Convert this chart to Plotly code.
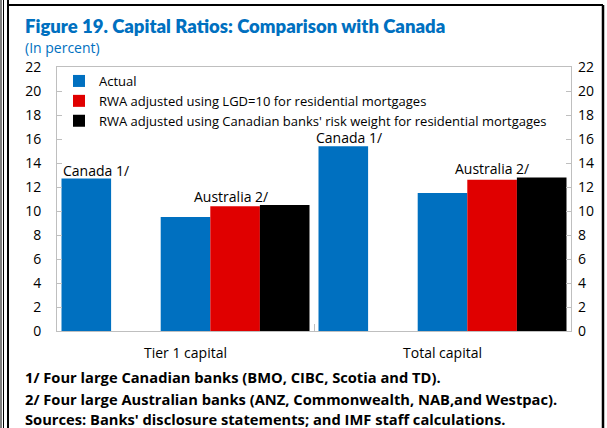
import plotly.graph_objects as go

# ---- data ----
categories = ["Tier 1 capital", "Total capital"]
canada = [12.7, 15.4]          # Canada 1/ (actual)
spacer = [None, None]          # empty slot between Canada and Australia
actual = [9.5, 11.5]           # Australia 2/ actual
rwa_lgd = [10.4, 12.6]         # RWA adjusted using LGD=10
rwa_can = [10.5, 12.8]         # RWA adjusted using Canadian banks' risk weight
y_ticks = list(range(0, 23, 2))

legend_names = [
    "Actual",
    "RWA adjusted using LGD=10 for residential mortgages",
    "RWA adjusted using Canadian banks' risk weight for residential mortgages",
]
title_text = "Figure 19. Capital Ratios: Comparison with Canada"
subtitle_text = "(In percent)"
notes = [
    "1/ Four large Canadian banks (BMO, CIBC, Scotia and TD).",
    "2/ Four large Australian banks (ANZ, Commonwealth, NAB,and Westpac).",
    "Sources: Banks' disclosure statements; and IMF staff calculations.",
]

# ---- style ----
BLUE = "#0070C0"
RED = "#E00000"
BLACK = "#000000"
AXIS_GRAY = "#BFBFBF"
FONT = "Open Sans"
TFONT = "Lato"
W, H = 607, 428
L, R, T, B = 57, 36, 67, 97
PW, PH = W - L - R, H - T - B
BARGAP = 0.035
NSLOT = 5


def px(xp):
    return (xp - L) / PW


def py(yp):
    return (H - B - yp) / PH


fig = go.Figure()
fig.add_bar(x=categories, y=canada, marker_color=BLUE, showlegend=False, name="Canada")
fig.add_bar(x=categories, y=spacer, marker_color=BLUE, showlegend=False, name="")
fig.add_bar(x=categories, y=actual, marker_color=BLUE, name=legend_names[0])
fig.add_bar(x=categories, y=rwa_lgd, marker_color=RED, name=legend_names[1])
fig.add_bar(x=categories, y=rwa_can, marker_color=BLACK, name=legend_names[2])
for tr in fig.data:
    tr.marker.line.width = 0
# invisible trace so the right-hand axis is drawn
fig.add_scatter(x=categories, y=spacer, yaxis="y2", mode="markers", showlegend=False,
                hoverinfo="skip", marker=dict(opacity=0))

slot = (1 - BARGAP) / NSLOT
annotations = []
for i in range(len(categories)):
    annotations.append(dict(
        x=i - 2 * slot, y=canada[i], xref="x", yref="y", text="Canada 1/",
        showarrow=False, yanchor="bottom", xshift=10 if i == 0 else 6, yshift=-3,
        font=dict(family=FONT, size=14, color="#000")))
    annotations.append(dict(
        x=i + slot, y=max(actual[i], rwa_lgd[i], rwa_can[i]), xref="x", yref="y",
        text="Australia 2/", showarrow=False, yanchor="bottom", xshift=-4 if i == 0 else 0,
        yshift=-3, font=dict(family=FONT, size=14, color="#000")))

annotations.append(dict(x=px(23), y=py(26), xref="paper", yref="paper", text=title_text,
                        showarrow=False, xanchor="left", yanchor="middle",
                        font=dict(family=TFONT, size=18.5, color=BLUE, weight=800)))
annotations.append(dict(x=px(23), y=py(47), xref="paper", yref="paper", text=subtitle_text,
                        showarrow=False, xanchor="left", yanchor="middle",
                        font=dict(family=FONT, size=14, color=BLUE)))
for t, yy in zip(notes, [377, 399, 419]):
    annotations.append(dict(x=px(23), y=py(yy), xref="paper", yref="paper", text="<b>" + t + "</b>",
                            showarrow=False, xanchor="left", yanchor="middle",
                            font=dict(family=FONT, size=14.7, color="#000")))

shapes = []
for xx, wd in [(1, 1), (3.5, 1), (8, 2)]:
    shapes.append(dict(type="line", xref="paper", yref="paper", x0=px(xx), x1=px(xx), y0=py(0), y1=py(H + 2),
                       line=dict(color="#000", width=wd)))
shapes.append(dict(type="line", xref="paper", yref="paper", x0=px(8), x1=px(603), y0=py(5), y1=py(5),
                   line=dict(color="#000", width=2)))
shapes.append(dict(type="line", xref="paper", yref="paper", x0=px(603), x1=px(603), y0=py(5), y1=py(H + 2),
                   line=dict(color="#000", width=2.5)))

fig.update_layout(
    width=W, height=H,
    margin=dict(l=L, r=R, t=T, b=B, pad=0),
    paper_bgcolor="white", plot_bgcolor="white",
    barmode="group", bargap=BARGAP, bargroupgap=0,
    font=dict(family=FONT, size=14, color="#000"),
    showlegend=True,
    legend=dict(x=px(59), y=py(66), xanchor="left", yanchor="top",
                bgcolor="rgba(0,0,0,0)", font=dict(family=FONT, size=13, color="#000"),
                itemwidth=30, tracegroupgap=0),
    xaxis=dict(showline=True, linecolor=AXIS_GRAY, linewidth=1, mirror=True,
               ticks="inside", ticklen=7, tickcolor=AXIS_GRAY, tickson="boundaries",
               showgrid=False, zeroline=False, ticklabelstandoff=9,
               tickfont=dict(family=FONT, size=14, color="#000")),
    yaxis=dict(range=[0, 22], tickvals=y_ticks, showline=True, linecolor=AXIS_GRAY, linewidth=1,
               mirror="ticks", ticks="inside", ticklen=5, tickcolor=AXIS_GRAY,
               showgrid=False, zeroline=False, ticklabelstandoff=12,
               tickfont=dict(family=FONT, size=14, color="#000")),
    yaxis2=dict(range=[0, 22], tickvals=y_ticks, overlaying="y", side="right", showline=False,
                ticks="", showgrid=False, zeroline=False, ticklabelstandoff=6,
                tickfont=dict(family=FONT, size=14, color="#000")),
    annotations=annotations,
    shapes=shapes,
)

fig.write_html("out.html", config={"displayModeBar": False},
               post_script="document.body.style.margin='0';document.body.style.overflow='hidden';")
